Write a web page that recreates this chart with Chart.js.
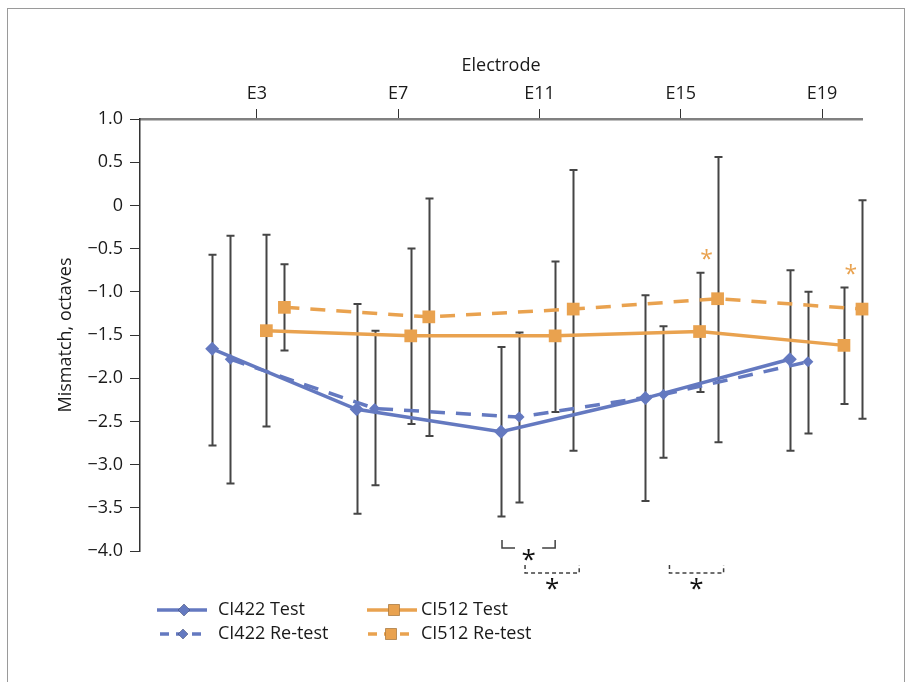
<!DOCTYPE html>
<html>
<head>
<meta charset="utf-8">
<script src="https://cdn.jsdelivr.net/npm/chart.js@4.4.0/dist/chart.umd.min.js"></script>
<style>
  html, body { margin: 0; padding: 0; background: #fff; }
  #wrap { position: relative; width: 909px; height: 682px; overflow: hidden; }
  #frame { position: absolute; left: 7px; top: 8px; width: 898px; height: 720px; border: 1.5px solid #9a9a9a; box-sizing: border-box; }
  canvas { position: absolute; left: 0; top: 0; }
</style>
</head>
<body>
<div id="wrap">
  <div id="frame"></div>
  <canvas id="chart" width="909" height="682"></canvas>
</div>
<script>
// Electrode axis (top)
const electrodeLabels = ['E3', 'E7', 'E11', 'E15', 'E19'];
const electrodeNums = [3, 7, 11, 15, 19];

// five measurement groups along the array
const groups = ['g1', 'g2', 'g3', 'g4', 'g5'];

// mean mismatch (octaves) and error bar ends
const ci422Test     = [-1.66, -2.36, -2.62, -2.23, -1.78];
const ci422TestLo   = [-2.78, -3.57, -3.60, -3.42, -2.84];
const ci422TestHi   = [-0.57, -1.14, -1.64, -1.04, -0.75];

const ci422Retest   = [-1.78, -2.35, -2.45, -2.19, -1.81];
const ci422RetestLo = [-3.22, -3.24, -3.44, -2.92, -2.64];
const ci422RetestHi = [-0.35, -1.45, -1.47, -1.40, -1.00];

const ci512Test     = [-1.45, -1.51, -1.51, -1.46, -1.62];
const ci512TestLo   = [-2.56, -2.53, -2.39, -2.16, -2.30];
const ci512TestHi   = [-0.34, -0.50, -0.65, -0.78, -0.95];

const ci512Retest   = [-1.18, -1.29, -1.20, -1.08, -1.20];
const ci512RetestLo = [-1.68, -2.67, -2.84, -2.74, -2.47];
const ci512RetestHi = [-0.68, 0.08, 0.41, 0.56, 0.06];

// significance marks
const sigCI512 = [3, 4];          // asterisk over CI512 test bar
const sigTestPairs = [2];         // solid bracket: CI422 vs CI512 test
const sigRetestPairs = [2, 3];    // dashed bracket: CI422 vs CI512 re-test

const BLUE = '#6479c0';
const ORANGE = '#e9a24f';
const FONT = '"Open Sans", "Noto Sans", sans-serif';

// slot inside each group (8 slots per group)
const slot = [0, 1, 3, 4];
const pts = (vals, s) => vals.map((v, i) => ({ x: 4 + 8 * i + slot[s], y: v }));

const errors = [
  [ci422TestLo, ci422TestHi],
  [ci422RetestLo, ci422RetestHi],
  [ci512TestLo, ci512TestHi],
  [ci512RetestLo, ci512RetestHi]
];

const errorBars = {
  id: 'errorBars',
  beforeDatasetsDraw(chart) {
    const { ctx, scales: { x, y } } = chart;
    ctx.save();
    ctx.strokeStyle = '#454545';
    ctx.lineWidth = 2;
    chart.data.datasets.forEach((ds, d) => {
      ds.data.forEach((p, i) => {
        const px = Math.round(x.getPixelForValue(p.x)) + 0.5;
        const top = y.getPixelForValue(errors[d][1][i]);
        const bot = y.getPixelForValue(errors[d][0][i]);
        ctx.beginPath();
        ctx.moveTo(px, top); ctx.lineTo(px, bot);
        ctx.moveTo(px - 4, top); ctx.lineTo(px + 4, top);
        ctx.moveTo(px - 4, bot); ctx.lineTo(px + 4, bot);
        ctx.stroke();
      });
    });
    ctx.restore();
  }
};

const extras = {
  id: 'extras',
  afterDraw(chart) {
    const { ctx, scales: { x, y }, chartArea } = chart;
    const ds = chart.data.datasets;
    ctx.save();

    // orange asterisks
    ctx.fillStyle = ORANGE;
    ctx.font = '23px ' + FONT;
    ctx.textAlign = 'center';
    ctx.textBaseline = 'middle';
    sigCI512.forEach(i => {
      const px = x.getPixelForValue(ds[2].data[i].x) + 7;
      const py = y.getPixelForValue(ci512TestHi[i]) - 12;
      ctx.fillText('*', px, py);
    });

    // brackets
    ctx.strokeStyle = '#404040';
    ctx.fillStyle = '#111';
    ctx.lineWidth = 1.5;
    const b = chartArea.bottom;
    sigTestPairs.forEach(i => {
      const x1 = x.getPixelForValue(ds[0].data[i].x) + 1;
      const x2 = x.getPixelForValue(ds[2].data[i].x);
      ctx.beginPath();
      ctx.moveTo(x1, b - 11); ctx.lineTo(x1, b - 3); ctx.lineTo(x1 + 13, b - 3);
      ctx.moveTo(x2, b - 11); ctx.lineTo(x2, b - 3); ctx.lineTo(x2 - 13, b - 3);
      ctx.stroke();
      ctx.font = '26px ' + FONT;
      ctx.fillText('*', (x1 + x2) / 2, b + 10);
    });
    sigRetestPairs.forEach(i => {
      const x1 = x.getPixelForValue(ds[1].data[i].x) + 6;
      const x2 = x.getPixelForValue(ds[3].data[i].x) + 6;
      ctx.setLineDash([4, 3]);
      ctx.beginPath();
      ctx.moveTo(x1, b + 14); ctx.lineTo(x1, b + 22); ctx.lineTo(x2, b + 22); ctx.lineTo(x2, b + 14);
      ctx.stroke();
      ctx.setLineDash([]);
      ctx.font = '26px ' + FONT;
      ctx.fillText('*', (x1 + x2) / 2, b + 39);
    });

    // legend
    const items = [
      { d: 0, x: 157, y: 610, w: 50, r: 6 },
      { d: 1, x: 160, y: 634, w: 42, r: 5 },
      { d: 2, x: 367, y: 610, w: 50, r: 8 },
      { d: 3, x: 368, y: 634, w: 42, r: 8 }
    ];
    items.forEach(it => {
      const s = ds[it.d];
      ctx.strokeStyle = s.borderColor;
      ctx.lineWidth = s.borderWidth;
      ctx.setLineDash(s.borderDash ? [9, 7] : []);
      ctx.beginPath();
      ctx.moveTo(it.x, it.y); ctx.lineTo(it.x + it.w, it.y);
      ctx.stroke();
      ctx.setLineDash([]);
      Chart.helpers.drawPoint(ctx, {
        pointStyle: s.pointStyle, radius: it.r, borderWidth: 0, rotation: 0
      }, it.x + it.w / 2 + 2, it.y);
      ctx.fillStyle = s.borderColor;
      ctx.fill();
      ctx.fillStyle = '#1a1a1a';
      ctx.font = '18px ' + FONT;
      ctx.textAlign = 'left';
      ctx.fillText(s.label, it.x < 300 ? 218 : 421, it.y);
    });
    ctx.restore();
  }
};

new Chart(document.getElementById('chart').getContext('2d'), {
  type: 'line',
  data: {
    datasets: [
      { label: 'CI422 Test', data: pts(ci422Test, 0), borderColor: BLUE, backgroundColor: BLUE,
        borderWidth: 3.5, pointStyle: 'rectRot', pointRadius: 7, pointBorderWidth: 0, clip: false },
      { label: 'CI422 Re-test', data: pts(ci422Retest, 1), borderColor: BLUE, backgroundColor: BLUE,
        borderWidth: 3.5, borderDash: [15, 11], pointStyle: 'rectRot', pointRadius: 5.5, pointBorderWidth: 0, clip: false },
      { label: 'CI512 Test', data: pts(ci512Test, 2), borderColor: ORANGE, backgroundColor: ORANGE,
        borderWidth: 3.5, pointStyle: 'rect', pointRadius: 9, pointBorderWidth: 0, clip: false },
      { label: 'CI512 Re-test', data: pts(ci512Retest, 3), borderColor: ORANGE, backgroundColor: ORANGE,
        borderWidth: 3.5, borderDash: [15, 11], pointStyle: 'rect', pointRadius: 9, pointBorderWidth: 0, clip: false }
    ]
  },
  options: {
    responsive: false,
    animation: false,
    devicePixelRatio: 1,
    layout: { padding: { left: 0, top: 0, right: 47, bottom: 131 } },
    plugins: { legend: { display: false }, tooltip: { enabled: false } },
    scales: {
      x: { type: 'linear', min: 0, max: 8 * groups.length, display: false },
      x2: {
        type: 'linear', position: 'top', min: -0.31, max: 20.13,
        afterBuildTicks: s => { s.ticks = electrodeNums.map(v => ({ value: v })); },
        afterFit: s => { s.height = 119; },
        border: { color: '#808080', width: 2.5 },
        grid: { drawOnChartArea: false, tickLength: 10, color: '#333', lineWidth: 1 },
        ticks: {
          padding: 4, color: '#1a1a1a', font: { family: FONT, size: 18 },
          callback: v => electrodeLabels[electrodeNums.indexOf(v)]
        },
        title: { display: true, text: 'Electrode', color: '#1a1a1a', font: { family: FONT, size: 18 }, padding: { top: 55 } }
      },
      y: {
        min: -4, max: 1,
        afterFit: s => { s.width = 140; },
        border: { color: '#333', width: 1.5 },
        grid: { drawOnChartArea: false, tickLength: 10, color: '#333', lineWidth: 1 },
        ticks: {
          stepSize: 0.5, padding: 7, color: '#1a1a1a', font: { family: FONT, size: 18 },
          callback: v => v === 0 ? '0' : v.toFixed(1).replace('-', '\u2212')
        },
        title: { display: true, text: 'Mismatch, octaves', color: '#1a1a1a', font: { family: FONT, size: 18 }, padding: { top: 55 } }
      }
    }
  },
  plugins: [errorBars, extras]
});
</script>
</body>
</html>
